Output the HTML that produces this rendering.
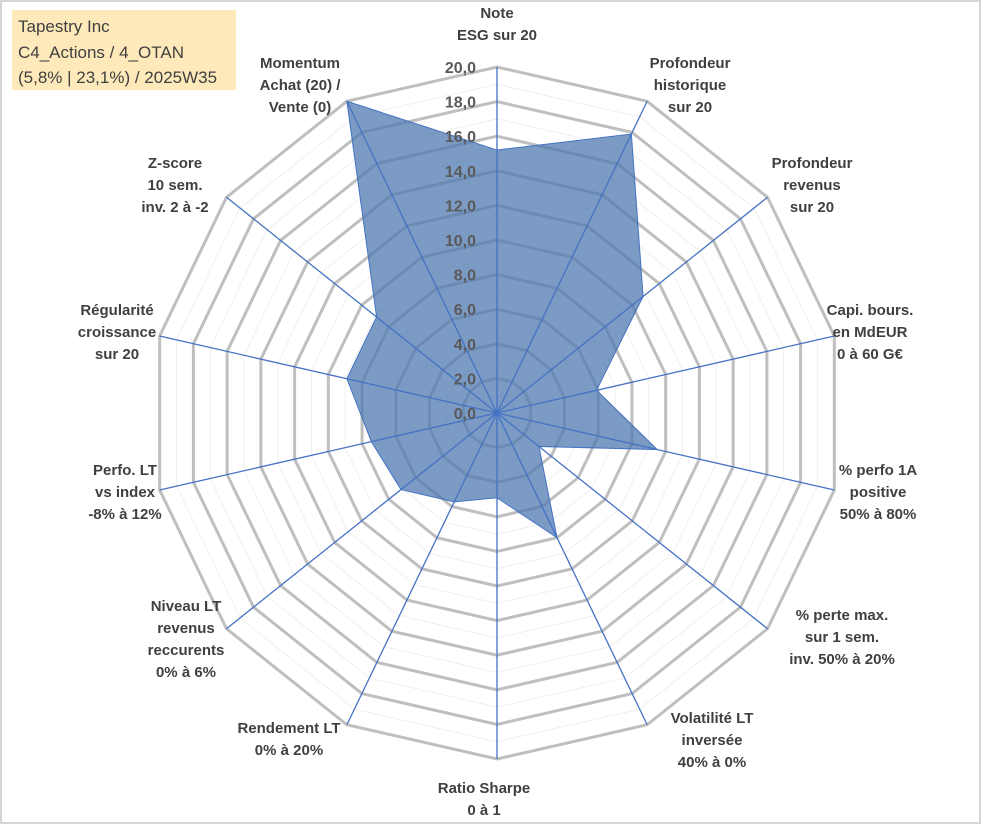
<!DOCTYPE html>
<html><head><meta charset="utf-8"><style>
body{margin:0;background:#fff;}
svg{display:block;font-family:"Liberation Sans",Arial,sans-serif;}
.lbl{font-weight:bold;font-size:15px;fill:#404040;text-anchor:middle;}
.tick{font-weight:bold;font-size:16px;fill:#595959;text-anchor:end;}
</style></head><body>
<svg id="chart" width="991" height="829" viewBox="0 0 991 829">
<rect x="1" y="1" width="979" height="822" fill="#fff" stroke="#c8c8c8" stroke-width="1.5"/>
<rect x="12" y="10" width="224" height="80" fill="#fde9b9"/>
<text x="18" y="32" font-size="17" fill="#404040">Tapestry Inc</text>
<text x="18" y="58" font-size="17" fill="#404040">C4_Actions / 4_OTAN</text>
<text x="18" y="83" font-size="17" fill="#404040">(5,8% | 23,1%) / 2025W35</text>
<g id="grid"></g><g id="series"></g><g id="ticks"></g><g id="labels"></g>
</svg>
<script>
const categories=[["Note","ESG sur 20"],["Profondeur","historique","sur 20"],["Profondeur","revenus","sur 20"],["Capi. bours.","en MdEUR","0 à 60 G€"],["% perfo 1A","positive","50% à 80%"],["% perte max.","sur 1 sem.","inv. 50% à 20%"],["Volatilité LT","inversée","40% à 0%"],["Ratio Sharpe","0 à 1"],["Rendement LT","0% à 20%"],["Niveau LT","revenus","reccurents","0% à 6%"],["Perfo. LT","vs index","-8% à 12%"],["Régularité","croissance","sur 20"],["Z-score","10 sem.","inv. 2 à -2"],["Momentum","Achat (20) /","Vente (0)"]];
const values=[15.2,17.9,10.8,5.9,9.5,3.1,8.0,4.9,5.7,7.1,7.45,8.9,8.9,20];
const tickLabels=["0,0","2,0","4,0","6,0","8,0","10,0","12,0","14,0","16,0","18,0","20,0"];
const labelPos=[[497,18],[690,68],[812,168],[870,315],[878,475],[842,620],[712,723],[484,793],[289,733],[186,611],[125,475],[117,315],[175,168],[300,68]];
const NS="http://www.w3.org/2000/svg",cx=497,cy=413,R=346,maxV=20,N=categories.length;
function ang(i){return i*2*Math.PI/N;}
function pt(i,v){const r=v/maxV*R;return [cx+r*Math.sin(ang(i)),cy-r*Math.cos(ang(i))];}
function mk(t,a,p){const e=document.createElementNS(NS,t);for(const k in a)e.setAttribute(k,a[k]);p.appendChild(e);return e;}
const grid=document.getElementById('grid');
for(let v=1;v<=maxV;v++){
 const pts=categories.map((c,i)=>pt(i,v).join(',')).join(' ');
 const major=v%2===0;
 const g=mk('polygon',{points:pts,fill:'none',stroke:major?'#bfbfbf':'#efefef','stroke-width':major?3:1},grid);
 
 
}
const ser=document.getElementById('series');
const poly=mk('polygon',{points:values.map((v,i)=>pt(i,v).join(',')).join(' '),fill:'rgba(79,121,178,0.75)',stroke:'#4472c4','stroke-width':1},ser);


categories.forEach((c,i)=>{const p=pt(i,maxV);
 const l=mk('line',{x1:cx,y1:cy,x2:p[0],y2:p[1],stroke:'#4472c4','stroke-width':1.3},ser);
 
 
});
const tg=document.getElementById('ticks');
tickLabels.forEach((t,k)=>{const y=cy-(k*2)/maxV*R;
 const e=mk('text',{x:476,y:y+6,class:'tick'},tg);e.textContent=t;
 
 
});
const lg=document.getElementById('labels');
categories.forEach((c,i)=>{const [x,y]=labelPos[i];
 const e=mk('text',{x:x,y:y,class:'lbl'},lg);
 
 
 c.forEach((s,j)=>{const ts=mk('tspan',{x:x,dy:j?22:0},e);ts.textContent=s;});
});
</script>
</body></html>
